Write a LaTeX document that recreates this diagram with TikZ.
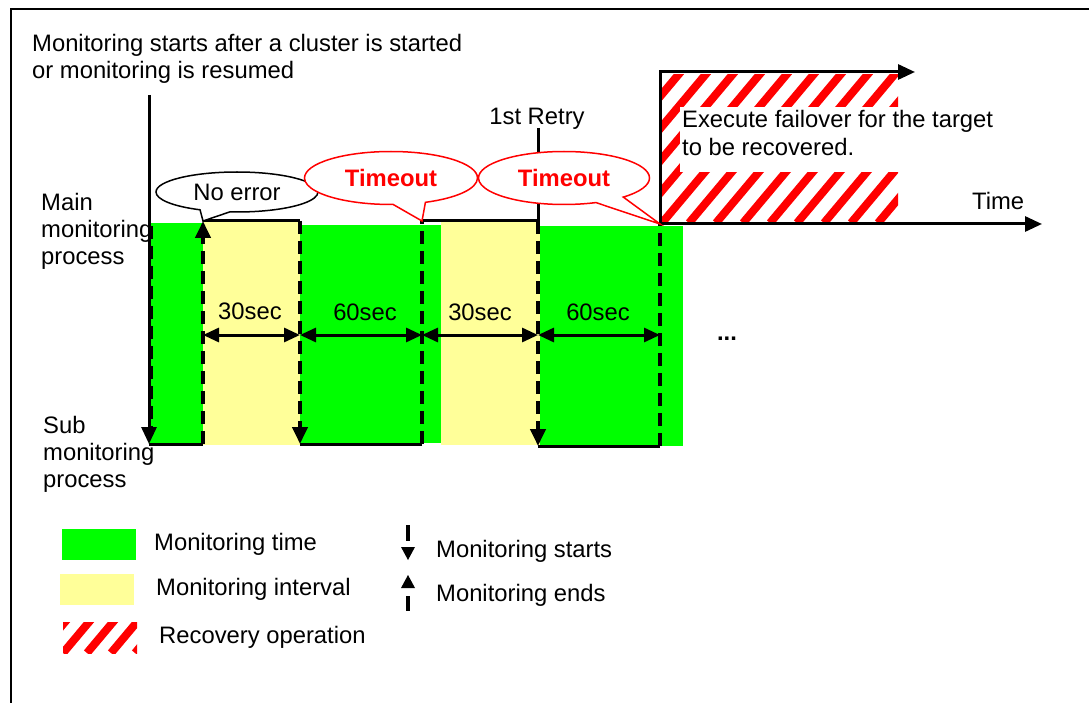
\documentclass[tikz,border=0pt]{standalone}
\usepackage{fontspec}
\setmainfont{Liberation Sans}
\usetikzlibrary{arrows.meta,shapes.callouts}
\definecolor{mgreen}{RGB}{0,255,0}
\definecolor{myellow}{RGB}{255,255,153}
\definecolor{mred}{RGB}{255,0,0}
\newcommand\hatchrect[5]{% x1,y1,x2,y2,period
  \begin{scope}
    \clip (#1,#2) rectangle (#3,#4);
    \foreach \k in {-8,...,12}
      \draw[mred, line width=8pt] ({#1+#5*\k},#4) -- ++(130,-155);
  \end{scope}}
\begin{document}
\begin{tikzpicture}[x=1pt,y=-1pt,
  font=\fontsize{23.8}{27}\selectfont,
  lbl/.style={anchor=base west, inner sep=0pt},
  clbl/.style={anchor=base, inner sep=0pt},
  ln/.style={line width=3pt, black},
  dsh/.style={line width=4pt, black, dash pattern=on 13pt off 7pt},
  tipd/.style={-{Triangle[length=17pt,width=15pt]}},
  dimarrow/.style={line width=3pt, {Triangle[length=16pt,width=14pt]}-{Triangle[length=16pt,width=14pt]}},
  bubble/.style={ellipse callout, draw, fill=white, line width=1.5pt, inner sep=0pt, callout pointer arc=22},
  ]
\useasboundingbox (0,0) rectangle (1089,703);
% frame
\draw[line width=2pt] (1089,9) -- (11,9) -- (11,703);

% title
\node[lbl] (title1) at (32,52) {Monitoring starts after a cluster is started};
\node[lbl] (title2) at (32,79) {or monitoring is resumed};

% row labels
\node[lbl] (mainA) at (41,211) {Main};
\node[lbl] (mainB) at (41,238) {monitoring};
\node[lbl] (mainC) at (41,265) {process};
\node[lbl] (subA) at (43,433) {Sub};
\node[lbl] (subB) at (43,460) {monitoring};
\node[lbl] (subC) at (43,487) {process};

% colored bands
\fill[mgreen] (149,223) rectangle (203,445);
\fill[myellow] (203,221) rectangle (300,445);
\fill[mgreen] (300,225) rectangle (441,443);
\fill[myellow] (441,222) rectangle (540,445);
\fill[mgreen] (540,226) rectangle (683,446);

% recovery hatch
\hatchrect{662}{75}{898}{223}{27}
\fill[white] (680,107) rectangle (1000,172);
\node[lbl] (exec1) at (682,128) {Execute failover for the target};
\node[lbl] (exec2) at (682,156) {to be recovered.};

% coordinates
\coordinate (s0) at (149,95);
\coordinate (s1) at (149,444);
\coordinate (e1top) at (203,221);
\coordinate (e1bot) at (203,444);
\coordinate (a2top) at (300,221);
\coordinate (a2bot) at (300,444);
\coordinate (t1top) at (422,221);
\coordinate (t1bot) at (422,444);
\coordinate (r0) at (538,128);
\coordinate (r1top) at (538,221);
\coordinate (r1bot) at (538,446);
\coordinate (t2top) at (660,224);
\coordinate (t2bot) at (660,446);
\coordinate (upc) at (660,72);
\coordinate (upend) at (915,72);
\coordinate (timeend) at (1042,224);

% start axis
\draw[dsh] (151,226) -- (151,432);
\draw[ln, tipd] (s0) -- (s1);
\draw[ln] (s1) -- (e1bot);
% monitoring ends (no error)
\draw[dsh, tipd] (e1bot) -- (e1top);
\draw[ln] (e1top) -- (a2top);
% next start
\draw[dsh, tipd] (a2top) -- (a2bot);
\draw[ln] (a2bot) -- (t1bot);
% timeout 1
\draw[dsh] (t1bot) -- (t1top);
\draw[ln] (t1top) -- (r1top);
% retry
\draw[ln] (r0) -- (r1top);
\draw[dsh, tipd] (r1top) -- (r1bot);
\draw[ln] (r1bot) -- (t2bot);
% timeout 2
\draw[dsh] (t2bot) -- (t2top);
% axes
\draw[ln, tipd] (t2top) -- (upc) -- (upend);
\draw[ln, tipd] (t2top) -- (timeend);

\node[clbl] (retry) at (537,125) {1st Retry};
\node[lbl] (time) at (972,210) {Time};

% dimension arrows
\draw[dimarrow] (203,335) -- (300,335);
\draw[dimarrow] (300,335) -- (422,335);
\draw[dimarrow] (422,335) -- (538,335);
\draw[dimarrow] (538,335) -- (660,335);
\node[clbl] (d1) at (250,319) {30sec};
\node[clbl] (d2) at (365,320) {60sec};
\node[clbl] (d3) at (480,320) {30sec};
\node[clbl] (d4) at (598,320) {60sec};
\node[clbl] (dots) at (727,340) {\textbf{...}};

% callouts
\node[bubble, callout absolute pointer={(e1top)}, minimum width=162pt, minimum height=40pt] (noerr) at (237,192) {No error};
\node[bubble, draw=mred, text=mred, font=\fontsize{23.8}{27}\selectfont\bfseries, callout absolute pointer={(t1top)}, minimum width=173pt, minimum height=53pt] (to1) at (391,178) {Timeout};
\node[bubble, draw=mred, text=mred, font=\fontsize{23.8}{27}\selectfont\bfseries, callout absolute pointer={(t2top)}, minimum width=171pt, minimum height=53pt] (to2) at (564,178) {Timeout};

% legend
\fill[mgreen] (62,529) rectangle (136,560);
\fill[myellow] (60,574) rectangle (134,605);
\hatchrect{63}{622}{137}{653}{24}
\node[lbl] (lg1) at (154,550) {Monitoring time};
\node[lbl] (lg2) at (156,595) {Monitoring interval};
\node[lbl] (lg3) at (159,643) {Recovery operation};
\draw[line width=4pt] (408,525) -- (408,541);
\fill (401,547) -- (415,547) -- (408,560) -- cycle;
\fill (401,588) -- (415,588) -- (408,575) -- cycle;
\draw[line width=4pt] (408,596) -- (408,611);
\node[lbl] (lg4) at (436,557) {Monitoring starts};
\node[lbl] (lg5) at (436,601) {Monitoring ends};
\end{tikzpicture}
\end{document}
